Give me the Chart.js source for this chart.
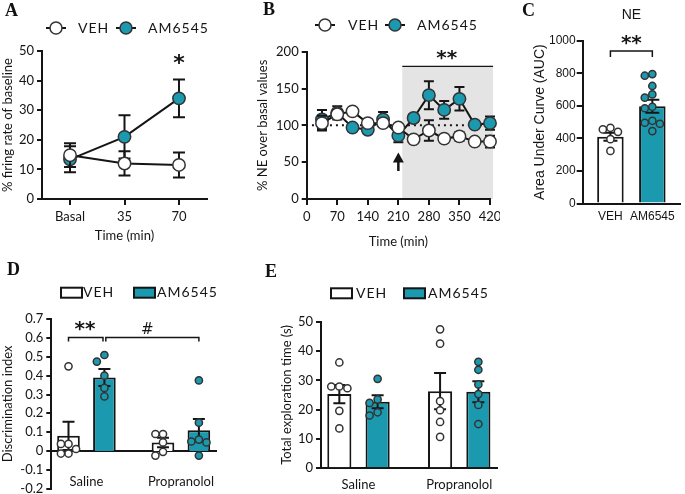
<!DOCTYPE html>
<html>
<head>
<meta charset="utf-8">
<title>AM6545 figure</title>
<script src="https://cdn.jsdelivr.net/npm/chart.js@4.4.1/dist/chart.umd.min.js"></script>
<style>
  body { margin: 0; background: #fff; }
  #page { position: relative; width: 685px; height: 494px; overflow: hidden; background: #fff; }
  #page canvas { position: absolute; }
  .tag { position: absolute; font: bold 18px/18px "Liberation Serif", serif; color: #111; }
</style>
</head>
<body>
<div id="page">
  <canvas id="chartA" width="228" height="250" style="left:0;top:0"></canvas>
  <canvas id="chartB" width="280" height="250" style="left:220px;top:0"></canvas>
  <canvas id="chartC" width="185" height="250" style="left:500px;top:0"></canvas>
  <canvas id="chartD" width="240" height="244" style="left:0;top:250px"></canvas>
  <canvas id="chartE" width="260" height="244" style="left:250px;top:250px"></canvas>
  <div class="tag" style="left:5px;top:1px">A</div>
  <div class="tag" style="left:263px;top:0">B</div>
  <div class="tag" style="left:522px;top:1px">C</div>
  <div class="tag" style="left:7px;top:260px">D</div>
  <div class="tag" style="left:265px;top:262px">E</div>
</div>
<script>
const INK = '#151515';
const TEAL = '#1b9aaf';
const EDGE = '#333';

// A - firing rate (% of baseline), mean and SEM
const timeA = [0, 35, 70];
const timeLabelsA = ['Basal', '35', '70'];
const firingVeh = [14.8, 12.0, 11.5];
const firingVehSem = [4.0, 4.1, 4.2];
const firingAm = [13.4, 21.0, 34.0];
const firingAmSem = [4.4, 7.3, 6.4];

// B - NE over basal values
const timeB = [35, 70, 105, 140, 175, 210, 245, 280, 315, 350, 385, 420];
const neVeh = [103, 115, 119, 103, 103, 97, 81, 93, 82, 85, 78, 78];
const neVehSem = [10, 5, 3, 4, 3, 4, 3, 14, 3, 6, 3, 8];
const neAm = [108, 117, 97, 94, 108, 86, 110, 141, 121, 136, 101, 103];
const neAmSem = [13, 9, 4, 4, 10, 9, 5, 19, 12, 16, 3, 9];

// C - area under curve
const aucGroups = ['VEH', 'AM6545'];
const aucMean = [410, 598];
const aucSem = [25, 40];
const aucVehPts = [465, 455, 440, 395, 323];
const aucAmPts = [795, 785, 722, 670, 650, 594, 585, 508, 496, 490, 445];

// D / E - Saline vs Propranolol
const groups = ['Saline', 'Propranolol'];
const diVehMean = [0.08, 0.045];
const diVehSem = [0.075, 0.025];
const diAmMean = [0.39, 0.11];
const diAmSem = [0.045, 0.06];
const diVehPts = [[0.45, 0.037, 0.037, 0.01, -0.014, -0.014], [0.09, 0.09, 0.045, -0.005, -0.025]];
const diAmPts = [[0.51, 0.475, 0.40, 0.335, 0.29], [0.375, 0.15, 0.06, 0.05, 0.045, -0.025]];

const exVehMean = [25.3, 26.3];
const exVehSem = [3.1, 6.2];
const exAmMean = [22.7, 26.1];
const exAmSem = [2.2, 3.6];
const exVehPts = [[36.1, 27.9, 27.9, 27.3, 19.6, 13.6], [47.4, 42.5, 22.9, 19.8, 15.8, 10.7]];
const exAmPts = [[30.5, 23.5, 22.3, 19.1, 18.0], [36.3, 33.6, 28.6, 25.3, 21.6, 15.1]];

Chart.defaults.font.family = 'Lato, "Open Sans", sans-serif';
Chart.defaults.font.size = 13;
Chart.defaults.color = INK;
Chart.defaults.animation = false;
Chart.defaults.events = [];
Chart.defaults.responsive = false;
Chart.defaults.plugins.legend.display = false;
Chart.defaults.plugins.tooltip.enabled = false;

// fixed axis boxes so the plot areas land where the figure has them
function fixWidth(w) {
    return function(scale) { scale.width = w; scale.paddingTop = 0; scale.paddingBottom = 0; };
}
function fixHeight(h) {
    return function(scale) { scale.height = h; scale.paddingLeft = 0; scale.paddingRight = 0; };
}
function onlyTicks(values) {
    return function(scale) { scale.ticks = values.map(v => ({ value: v })); };
}

// spread dots sideways when they would overlap (like a scatter dot plot)
function swarm(values, center, xStep, yStep) {
    const placed = [];
    return values.map(v => {
        let off = 0;
        for (let k = 0; k < 30; k++) {
            off = k === 0 ? 0 : (k % 2 ? -1 : 1) * Math.ceil(k / 2) * xStep * 0.5;
            const hit = placed.some(p => Math.hypot((p.x - off) / xStep, (p.y - v) / yStep) < 0.98);
            if (!hit) break;
        }
        placed.push({ x: off, y: v });
        return { x: center + off, y: v };
    });
}

function valueAt(ds, i) {
    const d = ds.data[i];
    return typeof d === 'object' ? d.y : d;
}

function drawErrors(chart, index) {
    const ds = chart.data.datasets[index];
    if (!ds.errors) return;
    const meta = chart.getDatasetMeta(index);
    const yScale = chart.scales.y;
    const ctx = chart.ctx;
    const half = (ds.capWidth || 10) / 2;
    ctx.save();
    ctx.strokeStyle = INK;
    ctx.lineWidth = 2;
    meta.data.forEach((el, i) => {
        const v = valueAt(ds, i), e = ds.errors[i];
        const top = yScale.getPixelForValue(v + e);
        const bot = yScale.getPixelForValue(v - e);
        ctx.beginPath();
        ctx.moveTo(el.x, top); ctx.lineTo(el.x, bot);
        ctx.moveTo(el.x - half, top); ctx.lineTo(el.x + half, top);
        ctx.moveTo(el.x - half, bot); ctx.lineTo(el.x + half, bot);
        ctx.stroke();
    });
    ctx.restore();
}

const errorBars = {
    id: 'errorBars',
    beforeDatasetDraw(chart, args) { if (args.meta.type === 'line') drawErrors(chart, args.index); },
    afterDatasetDraw(chart, args) { if (args.meta.type === 'bar') drawErrors(chart, args.index); }
};

// annotations in data units: shading, lines, brackets, arrow, text
function notes(items) {
    function draw(chart, layer) {
        const ctx = chart.ctx, x = chart.scales.x, y = chart.scales.y;
        ctx.save();
        items.filter(it => (it.layer || 'front') === layer).forEach(it => {
            ctx.strokeStyle = INK;
            ctx.fillStyle = INK;
            ctx.lineWidth = it.width || 1.5;
            ctx.setLineDash(it.dash || []);
            if (it.type === 'shade') {
                const x1 = x.getPixelForValue(it.x1), x2 = x.getPixelForValue(it.x2);
                const y1 = y.getPixelForValue(it.y1), y2 = y.getPixelForValue(it.y2);
                ctx.fillStyle = it.color;
                ctx.fillRect(x1, y2, x2 - x1, y1 - y2);
            } else if (it.type === 'line') {
                const py = y.getPixelForValue(it.y);
                ctx.beginPath();
                ctx.moveTo(x.getPixelForValue(it.x1), py);
                ctx.lineTo(x.getPixelForValue(it.x2), py);
                ctx.stroke();
            } else if (it.type === 'bracket') {
                const x1 = x.getPixelForValue(it.x1), x2 = x.getPixelForValue(it.x2);
                const py = y.getPixelForValue(it.y);
                ctx.beginPath();
                ctx.moveTo(x1, py + it.drop); ctx.lineTo(x1, py);
                ctx.lineTo(x2, py); ctx.lineTo(x2, py + it.drop);
                ctx.stroke();
            } else if (it.type === 'arrow') {
                const px = x.getPixelForValue(it.x);
                const tip = y.getPixelForValue(it.y1), tail = y.getPixelForValue(it.y2);
                ctx.lineWidth = 2.5;
                ctx.beginPath(); ctx.moveTo(px, tip + 8); ctx.lineTo(px, tail); ctx.stroke();
                ctx.beginPath();
                ctx.moveTo(px, tip); ctx.lineTo(px - 5.5, tip + 10); ctx.lineTo(px + 5.5, tip + 10);
                ctx.closePath(); ctx.fill();
            } else if (it.type === 'text') {
                ctx.font = it.font;
                ctx.textAlign = 'center';
                ctx.textBaseline = 'middle';
                ctx.fillText(it.text, x.getPixelForValue(it.x), y.getPixelForValue(it.y));
            }
        });
        ctx.restore();
    }
    return {
        id: 'notes',
        beforeDraw(chart) { draw(chart, 'back'); },
        beforeDatasetsDraw(chart) { draw(chart, 'mid'); },
        afterDraw(chart) { draw(chart, 'front'); }
    };
}

// legend "-o- label" as in the line panels
function lineLegend(y, items) {
    return {
        id: 'lineLegend',
        afterDraw(chart) {
            const ctx = chart.ctx;
            ctx.save();
            ctx.font = '14px Lato';
            ctx.letterSpacing = '1px';
            ctx.textBaseline = 'middle';
            items.forEach(it => {
                const ds = chart.data.datasets[it.dataset];
                ctx.strokeStyle = INK; ctx.lineWidth = 2;
                ctx.beginPath(); ctx.moveTo(it.cx - 10, y); ctx.lineTo(it.cx + 10, y); ctx.stroke();
                ctx.beginPath(); ctx.arc(it.cx, y, 6, 0, Math.PI * 2);
                ctx.fillStyle = ds.pointBackgroundColor; ctx.fill();
                ctx.lineWidth = 1.5; ctx.strokeStyle = EDGE; ctx.stroke();
                ctx.fillStyle = INK;
                ctx.fillText(ds.label, it.tx, y);
            });
            ctx.restore();
        }
    };
}

// legend with filled boxes as in the bar panels
function boxLegend(y, items) {
    return {
        id: 'boxLegend',
        afterDraw(chart) {
            const ctx = chart.ctx;
            ctx.save();
            ctx.font = '14px Lato';
            ctx.letterSpacing = '1px';
            ctx.textBaseline = 'middle';
            items.forEach(it => {
                const ds = chart.data.datasets[it.dataset];
                ctx.fillStyle = ds.backgroundColor;
                ctx.fillRect(it.x, y - 5, 21, 10);
                ctx.strokeStyle = INK; ctx.lineWidth = 2;
                ctx.strokeRect(it.x, y - 5, 21, 10);
                ctx.fillStyle = INK;
                ctx.fillText(ds.label, it.tx, y);
            });
            ctx.restore();
        }
    };
}

function axisBorder() { return { color: INK, width: 2 }; }
function tickGrid(len) {
    return { drawOnChartArea: false, drawTicks: len > 0, tickLength: len, color: INK, lineWidth: 2, offset: false };
}

function lineSet(label, xs, ys, errs, fill, cap) {
    return {
        label: label,
        data: xs.map((t, i) => ({ x: t, y: ys[i] })),
        errors: errs,
        capWidth: cap,
        borderColor: INK,
        borderWidth: 2,
        pointRadius: 6.2,
        pointBackgroundColor: fill,
        pointBorderColor: EDGE,
        pointBorderWidth: 1.5,
        clip: false
    };
}

function dotSet(points, fill) {
    return {
        type: 'scatter',
        data: points,
        order: 0,
        pointRadius: 3.6,
        pointBackgroundColor: fill,
        pointBorderColor: EDGE,
        pointBorderWidth: 1.5,
        clip: false
    };
}

const ARIAL = '"Liberation Sans", Arial, sans-serif';

// ---------- A ----------
new Chart(document.getElementById('chartA'), {
    type: 'line',
    data: {
        datasets: [
            lineSet('VEH', timeA, firingVeh, firingVehSem, '#fff', 12),
            lineSet('AM6545', timeA, firingAm, firingAmSem, TEAL, 12)
        ]
    },
    options: {
        layout: { padding: { left: 0, top: 51, right: 21, bottom: 6 } },
        scales: {
            x: {
                type: 'linear', min: -18, max: 88,
                afterBuildTicks: onlyTicks(timeA),
                afterFit: fixHeight(45),
                border: axisBorder(), grid: tickGrid(6),
                ticks: { padding: 4, callback: (v, i) => timeLabelsA[i] },
                title: { display: true, text: 'Time (min)', padding: 0 }
            },
            y: {
                min: 0, max: 50,
                afterFit: fixWidth(42),
                border: axisBorder(), grid: tickGrid(5),
                ticks: { stepSize: 10, padding: 3 },
                title: { display: true, text: '% firing rate of baseline', padding: 0 }
            }
        }
    },
    plugins: [errorBars,
        notes([{ type: 'text', x: 70, y: 45.5, text: '*', font: 'bold 22px "DejaVu Sans"' }]),
        lineLegend(28, [{ dataset: 0, cx: 56, tx: 78 }, { dataset: 1, cx: 126, tx: 148 }])]
});

// ---------- B ----------
new Chart(document.getElementById('chartB'), {
    type: 'line',
    data: {
        datasets: [
            lineSet('VEH', timeB, neVeh, neVehSem, '#fff', 10),
            lineSet('AM6545', timeB, neAm, neAmSem, TEAL, 10)
        ]
    },
    options: {
        layout: { padding: { left: 35, top: 51.7, right: 10, bottom: 0 } },
        scales: {
            x: {
                type: 'linear', min: 0, max: 420,
                afterFit: fixHeight(51),
                border: axisBorder(), grid: tickGrid(6),
                ticks: { stepSize: 70, padding: 4 },
                title: { display: true, text: 'Time (min)', padding: 0 }
            },
            y: {
                min: 0, max: 200,
                afterFit: fixWidth(51.7),
                border: axisBorder(), grid: tickGrid(5),
                ticks: { stepSize: 50, padding: 3 },
                title: { display: true, text: '% NE over basal values', padding: 0 }
            }
        }
    },
    plugins: [errorBars,
        notes([
            { type: 'shade', layer: 'back', x1: 219, x2: 427, y1: 0, y2: 180, color: '#e4e4e4' },
            { type: 'line', layer: 'back', x1: 219, x2: 427, y: 180, width: 1.2 },
            { type: 'line', layer: 'mid', x1: 12, x2: 427, y: 100, width: 2, dash: [2, 4] },
            { type: 'arrow', x: 210, y1: 63, y2: 38 },
            { type: 'text', x: 321, y: 190, text: '**', font: 'bold 20px "DejaVu Sans"' }
        ]),
        lineLegend(25, [{ dataset: 0, cx: 105, tx: 128 }, { dataset: 1, cx: 175, tx: 197 }])]
});

// ---------- C ----------
new Chart(document.getElementById('chartC'), {
    type: 'bar',
    data: {
        datasets: [
            {
                label: 'NE',
                data: aucGroups.map((g, i) => ({ x: i, y: aucMean[i] })),
                errors: aucSem,
                capWidth: 14,
                order: 1,
                backgroundColor: ['#fff', TEAL],
                borderColor: INK,
                borderWidth: 2,
                categoryPercentage: 1,
                barPercentage: 0.632
            },
            dotSet(swarm(aucVehPts, 0, 0.18, 50), '#fff'),
            dotSet(swarm(aucAmPts, 1, 0.18, 50), TEAL)
        ]
    },
    options: {
        layout: { padding: { left: 31.6, top: 40.7, right: 0, bottom: 0 } },
        scales: {
            x: {
                type: 'linear', min: -0.661, max: 1.648, offset: false,
                afterBuildTicks: onlyTicks([0, 1]),
                afterFit: fixHeight(46.5),
                border: axisBorder(), grid: tickGrid(0),
                ticks: { padding: 6, callback: (v, i) => aucGroups[i], font: { family: ARIAL, size: 12 } }
            },
            y: {
                min: 0, max: 1000,
                afterFit: fixWidth(51.1),
                border: axisBorder(), grid: tickGrid(6),
                ticks: { stepSize: 200, padding: 1, callback: v => String(v), font: { family: ARIAL, size: 12 } },
                title: { display: true, text: 'Area Under Curve (AUC)', padding: 0, font: { family: ARIAL, size: 14 } }
            }
        }
    },
    plugins: [errorBars,
        notes([
            { type: 'text', x: 0.5, y: 1158, text: 'NE', font: '14px "Liberation Sans"' },
            { type: 'bracket', x1: 0, x2: 1, y: 936, drop: 6 },
            { type: 'text', x: 0.5, y: 982, text: '**', font: 'bold 20px "DejaVu Sans"' }
        ])]
});

// grouped bars sit at group index +/- CAT_PCT / 4
const CAT_PCT = 0.76;
const SHIFT = CAT_PCT / 4;

function groupedBars(vehMean, vehSem, amMean, amSem) {
    const common = { order: 1, borderColor: INK, borderWidth: 2, categoryPercentage: CAT_PCT, barPercentage: 0.63, capWidth: 12 };
    return [
        Object.assign({ label: 'VEH', data: groups.map((g, i) => ({ x: i, y: vehMean[i] })), errors: vehSem, backgroundColor: '#fff' }, common),
        Object.assign({ label: 'AM6545', data: groups.map((g, i) => ({ x: i, y: amMean[i] })), errors: amSem, backgroundColor: TEAL }, common)
    ];
}

// ---------- D ----------
new Chart(document.getElementById('chartD'), {
    type: 'bar',
    data: {
        datasets: groupedBars(diVehMean, diVehSem, diAmMean, diAmSem).concat([
            dotSet(groups.flatMap((g, i) => swarm(diVehPts[i], i - SHIFT, 0.08, 0.042)), '#fff'),
            dotSet(groups.flatMap((g, i) => swarm(diAmPts[i], i + SHIFT, 0.08, 0.042)), TEAL)
        ])
    },
    options: {
        layout: { padding: { left: 0, top: 69.3, right: 14.3, bottom: 4.7 } },
        scales: {
            x: {
                type: 'linear', min: -0.372, max: 1.372, offset: false,
                position: { y: 0 },
                afterBuildTicks: onlyTicks([0, 1]),
                border: axisBorder(), grid: tickGrid(0),
                ticks: { padding: 23, callback: (v, i) => groups[i] }
            },
            y: {
                min: -0.2, max: 0.7,
                afterFit: fixWidth(51.3),
                border: axisBorder(), grid: tickGrid(5),
                ticks: { stepSize: 0.1, padding: 3, callback: v => Math.abs(v) < 1e-9 ? '0' : v.toFixed(1) },
                title: { display: true, text: 'Discrimination index', padding: 0 }
            }
        }
    },
    plugins: [errorBars,
        notes([
            { type: 'bracket', x1: -SHIFT, x2: 0.175, y: 0.603, drop: 4 },
            { type: 'bracket', x1: 0.205, x2: 1 + SHIFT, y: 0.603, drop: 4 },
            { type: 'text', x: -0.015, y: 0.645, text: '**', font: 'bold 20px "DejaVu Sans"' },
            { type: 'text', x: 0.645, y: 0.64, text: '#', font: '15px "DejaVu Sans"' }
        ]),
        boxLegend(42.7, [{ dataset: 0, x: 61, tx: 83 }, { dataset: 1, x: 134, tx: 157 }])]
});

// ---------- E ----------
new Chart(document.getElementById('chartE'), {
    type: 'bar',
    data: {
        datasets: groupedBars(exVehMean, exVehSem, exAmMean, exAmSem).concat([
            dotSet(groups.flatMap((g, i) => swarm(exVehPts[i], i - SHIFT, 0.08, 2.7)), '#fff'),
            dotSet(groups.flatMap((g, i) => swarm(exAmPts[i], i + SHIFT, 0.08, 2.7)), TEAL)
        ])
    },
    options: {
        layout: { padding: { left: 29, top: 71.7, right: 12.7, bottom: 0 } },
        scales: {
            x: {
                type: 'linear', min: -0.372, max: 1.378, offset: false,
                afterBuildTicks: onlyTicks([0, 1]),
                afterFit: fixHeight(25.7),
                border: axisBorder(), grid: tickGrid(0),
                ticks: { padding: 9, callback: (v, i) => groups[i] }
            },
            y: {
                min: 0, max: 50,
                afterFit: fixWidth(42),
                border: axisBorder(), grid: tickGrid(5),
                ticks: { stepSize: 10, padding: 3 },
                title: { display: true, text: 'Total exploration time (s)', padding: 0 }
            }
        }
    },
    plugins: [errorBars,
        boxLegend(43.3, [{ dataset: 0, x: 81, tx: 106 }, { dataset: 1, x: 154, tx: 178 }])]
});
</script>
</body>
</html>
